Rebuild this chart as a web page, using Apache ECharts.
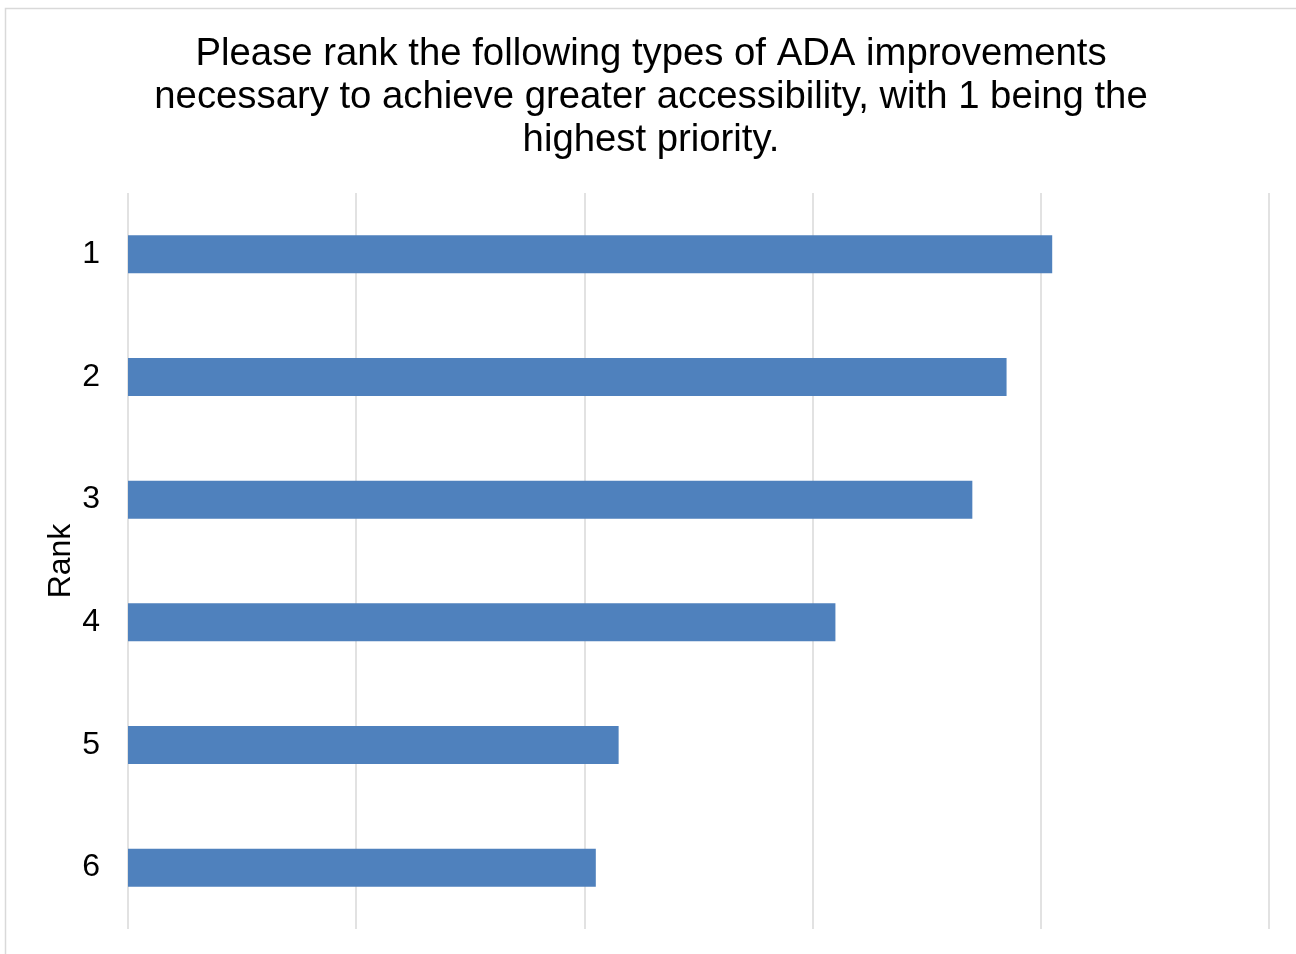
<!DOCTYPE html>
<html><head><meta charset="utf-8">
<script src="https://cdn.jsdelivr.net/npm/echarts@6/dist/echarts.min.js"></script>
<style>html,body{margin:0;padding:0;background:#fff}#c{width:1296px;height:954px}</style>
</head><body><div id="c"></div>
<script>
const titleText = 'Please rank the following types of ADA improvements\nnecessary to achieve greater accessibility, with 1 being the\nhighest priority.';
const categories = ['1', '2', '3', '4', '5', '6'];
const values = [4.05, 3.85, 3.70, 3.10, 2.15, 2.05];
const axisName = 'Rank';

const chart = echarts.init(document.getElementById('c'), null, {renderer: 'canvas'});
chart.setOption({
  animation: false,
  backgroundColor: '#fff',
  graphic: [{type: 'rect', shape: {x: 5.5, y: 8.5, width: 1400, height: 1100}, style: {fill: 'none', stroke: '#d9d9d9', lineWidth: 1.5}, z: -1}],
  title: {
    text: titleText, left: 646, top: 28, textAlign: 'center',
    textStyle: {fontFamily: 'Liberation Sans, Arial', fontSize: 38.3, fontWeight: 'normal', color: '#000', lineHeight: 43}
  },
  grid: {left: 128, top: 193, right: 27, bottom: 25, containLabel: false},
  xAxis: {
    type: 'value', min: 0, max: 5, interval: 1,
    axisLabel: {show: false}, axisLine: {show: false}, axisTick: {show: false},
    splitLine: {lineStyle: {color: '#d9d9d9', width: 1.5}}
  },
  yAxis: {
    type: 'category', data: categories, inverse: true,
    axisLine: {show: false}, axisTick: {show: false},
    axisLabel: {fontFamily: 'Liberation Sans, Arial', fontSize: 32, color: '#000', margin: 28},
    name: axisName, nameLocation: 'middle', nameGap: 51, nameRotate: 90, nameMoveOverlap: false,
    nameTextStyle: {fontFamily: 'Liberation Sans, Arial', fontSize: 32, color: '#000'}
  },
  series: [{type: 'bar', data: values, barWidth: 38, itemStyle: {color: '#4f81bd'}}]
});
</script></body></html>
